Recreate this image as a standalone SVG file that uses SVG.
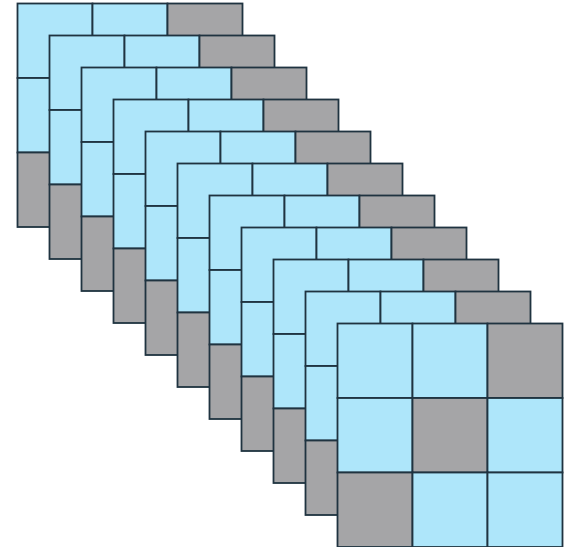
<svg xmlns="http://www.w3.org/2000/svg" xmlns:xlink="http://www.w3.org/1999/xlink" width="564" height="547" viewBox="0 0 564 547">
<style>
.b{fill:#aee6fa}
.g{fill:#a5a5a7}
.c{stroke:#1f3340;stroke-width:1.8}
</style>
<defs>
<g id="grid" class="c">
<rect class="b" x="0" y="0" width="75" height="74.5"/>
<rect class="b" x="75" y="0" width="75" height="74.5"/>
<rect class="g" x="150" y="0" width="75" height="74.5"/>
<rect class="b" x="0" y="74.5" width="75" height="74.5"/>
<rect class="g" x="75" y="74.5" width="75" height="74.5"/>
<rect class="b" x="150" y="74.5" width="75" height="74.5"/>
<rect class="g" x="0" y="149" width="75" height="74.5"/>
<rect class="b" x="75" y="149" width="75" height="74.5"/>
<rect class="b" x="150" y="149" width="75" height="74.5"/>
</g>
</defs>
<g id="grid1"><use xlink:href="#grid" x="17.5" y="3.5"/></g>
<g id="grid2"><use xlink:href="#grid" x="49.5" y="35.5"/></g>
<g id="grid3"><use xlink:href="#grid" x="81.5" y="67.5"/></g>
<g id="grid4"><use xlink:href="#grid" x="113.5" y="99.5"/></g>
<g id="grid5"><use xlink:href="#grid" x="145.5" y="131.5"/></g>
<g id="grid6"><use xlink:href="#grid" x="177.5" y="163.5"/></g>
<g id="grid7"><use xlink:href="#grid" x="209.5" y="195.5"/></g>
<g id="grid8"><use xlink:href="#grid" x="241.5" y="227.5"/></g>
<g id="grid9"><use xlink:href="#grid" x="273.5" y="259.5"/></g>
<g id="grid10"><use xlink:href="#grid" x="305.5" y="291.5"/></g>
<g id="grid11"><use xlink:href="#grid" x="337.5" y="323.5"/></g>
</svg>
